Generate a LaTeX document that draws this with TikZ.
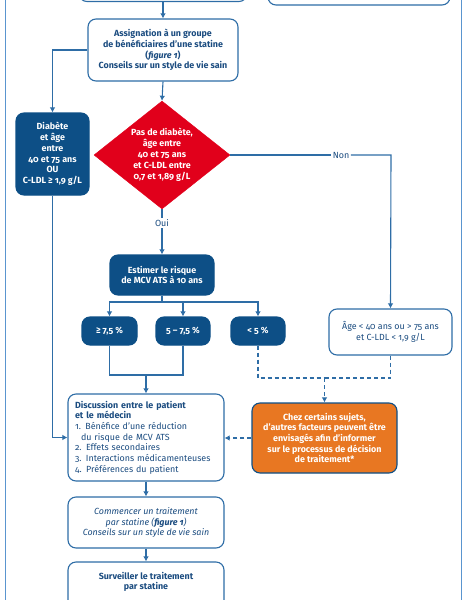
\documentclass[tikz,border=0pt]{standalone}
\usepackage{fontspec}
\setmainfont{Fira Sans}[Numbers=OldStyle]
\usetikzlibrary{shapes.geometric,arrows.meta}
\definecolor{dblue}{HTML}{0D4F86}
\definecolor{lblue}{HTML}{2E6DA6}
\definecolor{frame}{HTML}{5A95CF}
\definecolor{txtblue}{HTML}{1B4C80}
\definecolor{dred}{HTML}{E1001B}
\definecolor{orng}{HTML}{E87722}
\newcommand{\fs}{\fontsize{8.9}{10.7}\selectfont}
\tikzset{
  x=1pt,y=-1pt,
  base/.style={rounded corners=8pt, line width=1.1pt, align=center, inner sep=2pt, font=\fs},
  outbox/.style={base, draw=lblue, fill=white, text=txtblue},
  darkbox/.style={base, draw=dblue, fill=dblue, text=white, font=\bfseries\fs},
  orbox/.style={base, draw=dblue, fill=orng, text=white, font=\bfseries\fs},
  conn/.style={draw=lblue, line width=1.1pt},
  arr/.style={conn, -{Latex[length=5pt,width=5.5pt]}},
  dsh/.style={dash pattern=on 4pt off 3pt},
  lbl/.style={text=txtblue, fill=white, inner sep=1.5pt, font=\fs},
}
\begin{document}
\begin{tikzpicture}
\useasboundingbox (0,0) rectangle (466,600);
% outer frame
\draw[frame, line width=0.9pt] (5.5,-5) -- (5.5,610);
\draw[frame, line width=0.9pt] (461,-5) -- (461,610);
% boxes cut off at the top
\node[outbox, minimum width=168pt, minimum height=44pt] (topa) at (163,-20.5) {};
\node[outbox, minimum width=182pt, minimum height=44pt] (topb) at (359,-17) {};
% main nodes
\node[outbox, font=\bfseries\fs, minimum width=150pt, minimum height=62pt] (assign) at (163,50)
  {Assignation à un groupe\\de bénéficiaires d’une statine\\(\textit{figure 1})\\Conseils sur un style de vie sain};
\node[darkbox, minimum width=73pt, minimum height=82pt] (diab) at (52.5,154)
  {Diabète\\et âge\\entre\\40 et 75 ans\\OU\\C-LDL ≥ 1,9 g/L};
\node[diamond, draw=dred, fill=dred, minimum width=136pt, minimum height=108pt, inner sep=0pt] (dia) at (162,155) {};
\node[text=white, align=center, font=\bfseries\fontsize{8.9}{10.9}\selectfont] (diatext) at (dia.center)
  {Pas de diabète,\\âge entre\\40 et 75 ans\\et C-LDL entre\\0,7 et 1,89 g/L};
\node[lbl] (oui) at (162,223) {Oui};
\node[lbl] (non) at (341,155) {Non};
\node[darkbox, minimum width=104pt, minimum height=40pt] (est) at (162,275)
  {Estimer le risque\\de MCV ATS à 10 ans};
\node[darkbox, minimum width=55pt, minimum height=28pt] (p1) at (109.5,331) {≥ 7,5 \%};
\node[darkbox, minimum width=54pt, minimum height=28pt] (p2) at (183,331) {5 – 7,5 \%};
\node[darkbox, minimum width=54pt, minimum height=28pt] (p3) at (258,331) {< 5 \%};
\node[outbox, minimum width=123pt, minimum height=46pt] (age) at (390.5,332)
  {Âge < 40 ans ou > 75 ans\\et C-LDL < 1,9 g/L};
\node[outbox, minimum width=156pt, minimum height=87pt, align=left, text width=142pt, inner xsep=7pt] (disc) at (146,437.5)
  {\textbf{Discussion entre le patient}\\\textbf{et le médecin}\\1. Bénéfice d’une réduction\\\hspace*{6pt}du risque de MCV ATS\\2. Effets secondaires\\3. Interactions médicamenteuses\\4. Préférences du patient};
\node[orbox, minimum width=145pt, minimum height=70pt] (orange) at (324.5,438)
  {Chez certains sujets,\\d’autres facteurs peuvent être\\envisagés afin d’informer\\sur le processus de décision\\de traitement*};
\node[outbox, font=\itshape\fs, minimum width=156pt, minimum height=51pt] (comm) at (146,522.5)
  {Commencer un traitement\\par statine (\textbf{figure 1})\\Conseils sur un style de vie sain};
\node[outbox, minimum width=156pt, minimum height=56pt] (surv) at (146,590) {};
\node[text=txtblue, align=center, font=\bfseries\fs] (survtext) at (146,582)
  {Surveiller le traitement\\par statine};
% coordinates
\coordinate (nonc) at (391,155);
\coordinate (bar) at (162,302);
\coordinate (j) at (146,375);
\coordinate (k) at (324.5,378);
% connectors
\draw[arr] (topa.south) -- (assign.north);
\draw[arr] (assign.west) -| (diab.north);
\draw[arr] (assign.south) -- (dia.north);
\draw[conn] (dia.east) -- (non.west);
\draw[arr] (non.east) -- (nonc) -- (age.north);
\draw[conn] (dia.south) -- (oui.north);
\draw[arr] (oui.south) -- (est.north);
\draw[conn] (est.south) -- (bar);
\draw[arr] (bar) -| (p1.north);
\draw[arr] (bar) -| (p3.north);
\draw[arr] (p2.north |- bar) -- (p2.north);
\draw[conn] (p1.south) |- (j);
\draw[conn] (p2.south) |- (j);
\draw[arr] (j) -- (disc.north);
\draw[arr] (diab.south) |- (disc.west);
\draw[conn, dsh] (p3.south) |- (k);
\draw[conn, dsh] (age.south) |- (k);
\draw[arr, dsh] (k) -- (orange.north);
\draw[arr, dsh] (orange.west) -- (orange.west -| disc.east);
\draw[arr] (disc.south) -- (comm.north);
\draw[arr] (comm.south) -- (surv.north);
\end{tikzpicture}
\end{document}
